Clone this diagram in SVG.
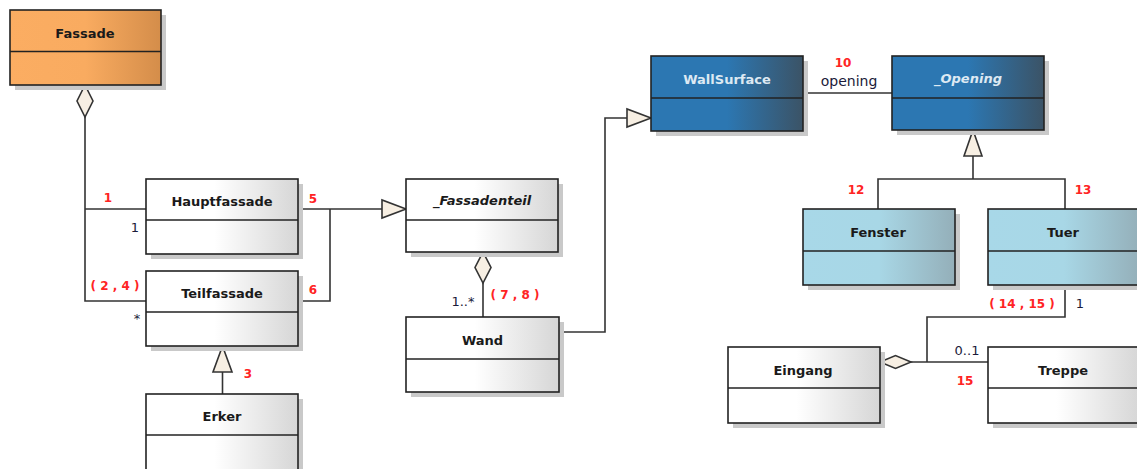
<svg xmlns="http://www.w3.org/2000/svg" width="1137" height="469" viewBox="0 0 1137 469">
<defs>
<linearGradient id="gW" x1="0" y1="0" x2="1" y2="0"><stop offset="0" stop-color="#ffffff"/><stop offset="0.45" stop-color="#ffffff"/><stop offset="1" stop-color="#d6d6d6"/></linearGradient>
<linearGradient id="gO" x1="0" y1="0" x2="1" y2="0"><stop offset="0" stop-color="#fbad62"/><stop offset="0.5" stop-color="#f9ab60"/><stop offset="1" stop-color="#d48d4a"/></linearGradient>
<linearGradient id="gB" x1="0" y1="0" x2="1" y2="0"><stop offset="0" stop-color="#2c77b2"/><stop offset="0.5" stop-color="#2c77b2"/><stop offset="1" stop-color="#3b5366"/></linearGradient>
<linearGradient id="gL" x1="0" y1="0" x2="1" y2="0"><stop offset="0" stop-color="#a8d8e8"/><stop offset="0.5" stop-color="#a8d7e6"/><stop offset="1" stop-color="#94afb9"/></linearGradient>
</defs>
<style>
.sh{fill:#c9c9c9}
.bx{stroke:#222;stroke-width:1.6}
.dv{stroke:#222;stroke-width:1.6}
.nm{font-family:"DejaVu Sans",sans-serif;font-weight:bold;font-size:13px;fill:#1a1a1a;text-anchor:middle}
.nl{fill:#dde9f3}
.it{font-style:italic}
.ln{fill:none;stroke:#333;stroke-width:1.6}
.hd{fill:#f7efe3;stroke:#333;stroke-width:1.6}
.rd{font-family:"DejaVu Sans",sans-serif;font-weight:bold;font-size:12px;fill:#ff2424;text-anchor:middle}
.mu{font-family:"DejaVu Sans",sans-serif;font-size:13px;fill:#1b1b3a;text-anchor:middle}
</style>
<g id="connectors">
<polyline class="ln" points="85,117 85,301 146,301"/>
<line class="ln" x1="85" y1="209" x2="146" y2="209"/>
<polygon class="hd" points="85,85 93,101 85,117 77,101"/>
<line class="ln" x1="222.5" y1="372" x2="222.5" y2="394"/>
<polygon class="hd" points="222.5,346 232,372 213,372"/>
<line class="ln" x1="298" y1="209" x2="382" y2="209"/>
<polyline class="ln" points="298,301 330,301 330,209"/>
<polygon class="hd" points="406,209 382,200 382,218"/>
<line class="ln" x1="483" y1="283" x2="483" y2="317"/>
<polygon class="hd" points="483,252 491,267.5 483,283 475,267.5"/>
<polyline class="ln" points="559,332 605,332 605,118 627,118"/>
<polygon class="hd" points="651,118 627,109 627,127"/>
<line class="ln" x1="803" y1="93" x2="892" y2="93"/>
<line class="ln" x1="973" y1="156" x2="973" y2="179"/>
<polyline class="ln" points="878,209 878,179 1065,179 1065,209"/>
<polygon class="hd" points="973,130 982,156 964,156"/>
<polyline class="ln" points="1065,285 1065,317 927,317 927,362"/>
<line class="ln" x1="911" y1="362" x2="988" y2="362"/>
<polygon class="hd" points="880,362 895.5,355.5 911,362 895.5,368.5"/>
<text class="rd" x="108" y="202">1</text>
<text class="mu" x="135" y="232">1</text>
<text class="rd" x="115" y="290">( 2 , 4 )</text>
<text class="mu" x="137" y="323">*</text>
<text class="rd" x="248" y="378">3</text>
<text class="rd" x="313" y="203">5</text>
<text class="rd" x="313" y="294">6</text>
<text class="mu" x="463" y="306">1..*</text>
<text class="rd" x="515" y="299">( 7 , 8 )</text>
<text class="rd" x="843" y="67">10</text>
<text class="mu" x="849" y="86" style="font-size:14px">opening</text>
<text class="rd" x="856" y="194">12</text>
<text class="rd" x="1083" y="194">13</text>
<text class="rd" x="1022" y="308">( 14 , 15 )</text>
<text class="mu" x="1080" y="308">1</text>
<text class="mu" x="967" y="355">0..1</text>
<text class="rd" x="965" y="385">15</text>
</g>
<g id="Fassade">
<rect class="sh" x="15" y="15" width="151" height="75"/>
<rect class="bx" x="10" y="10" width="151" height="75" fill="url(#gO)"/>
<line class="dv" x1="10" y1="51.5" x2="161" y2="51.5"/>
<text class="nm" x="85" y="38">Fassade</text>
</g>
<g id="Hauptfassade">
<rect class="sh" x="151" y="184" width="152" height="75"/>
<rect class="bx" x="146" y="179" width="152" height="75" fill="url(#gW)"/>
<line class="dv" x1="146" y1="220" x2="298" y2="220"/>
<text class="nm" x="222" y="206">Hauptfassade</text>
</g>
<g id="Teilfassade">
<rect class="sh" x="151" y="276" width="152" height="75"/>
<rect class="bx" x="146" y="271" width="152" height="75" fill="url(#gW)"/>
<line class="dv" x1="146" y1="312" x2="298" y2="312"/>
<text class="nm" x="222" y="298">Teilfassade</text>
</g>
<g id="Erker">
<rect class="sh" x="151" y="399" width="152" height="80"/>
<rect class="bx" x="146" y="394" width="152" height="80" fill="url(#gW)"/>
<line class="dv" x1="146" y1="435" x2="298" y2="435"/>
<text class="nm" x="222" y="421">Erker</text>
</g>
<g id="Fassadenteil">
<rect class="sh" x="411" y="184" width="152" height="73"/>
<rect class="bx" x="406" y="179" width="152" height="73" fill="url(#gW)"/>
<line class="dv" x1="406" y1="220" x2="558" y2="220"/>
<text class="nm it" x="482" y="205">_Fassadenteil</text>
</g>
<g id="Wand">
<rect class="sh" x="411" y="322" width="153" height="75"/>
<rect class="bx" x="406" y="317" width="153" height="75" fill="url(#gW)"/>
<line class="dv" x1="406" y1="359" x2="559" y2="359"/>
<text class="nm" x="482.5" y="345">Wand</text>
</g>
<g id="WallSurface">
<rect class="sh" x="656" y="61" width="152" height="75"/>
<rect class="bx" x="651" y="56" width="152" height="75" fill="url(#gB)"/>
<line class="dv" x1="651" y1="98" x2="803" y2="98"/>
<text class="nm nl" x="727" y="84">WallSurface</text>
</g>
<g id="Opening">
<rect class="sh" x="897" y="61" width="152" height="74"/>
<rect class="bx" x="892" y="56" width="152" height="74" fill="url(#gB)"/>
<line class="dv" x1="892" y1="98" x2="1044" y2="98"/>
<text class="nm nl it" x="968" y="83">_Opening</text>
</g>
<g id="Fenster">
<rect class="sh" x="808" y="214" width="152" height="76"/>
<rect class="bx" x="803" y="209" width="152" height="76" fill="url(#gL)"/>
<line class="dv" x1="803" y1="251" x2="955" y2="251"/>
<text class="nm" x="878" y="237">Fenster</text>
</g>
<g id="Tuer">
<rect class="sh" x="993" y="214" width="152" height="76"/>
<rect class="bx" x="988" y="209" width="152" height="76" fill="url(#gL)"/>
<line class="dv" x1="988" y1="251" x2="1140" y2="251"/>
<text class="nm" x="1063" y="237">Tuer</text>
</g>
<g id="Eingang">
<rect class="sh" x="733" y="352" width="152" height="76"/>
<rect class="bx" x="728" y="347" width="152" height="76" fill="url(#gW)"/>
<line class="dv" x1="728" y1="388" x2="880" y2="388"/>
<text class="nm" x="803" y="375">Eingang</text>
</g>
<g id="Treppe">
<rect class="sh" x="993" y="352" width="152" height="76"/>
<rect class="bx" x="988" y="347" width="152" height="76" fill="url(#gW)"/>
<line class="dv" x1="988" y1="388" x2="1140" y2="388"/>
<text class="nm" x="1063" y="375">Treppe</text>
</g>
</svg>
